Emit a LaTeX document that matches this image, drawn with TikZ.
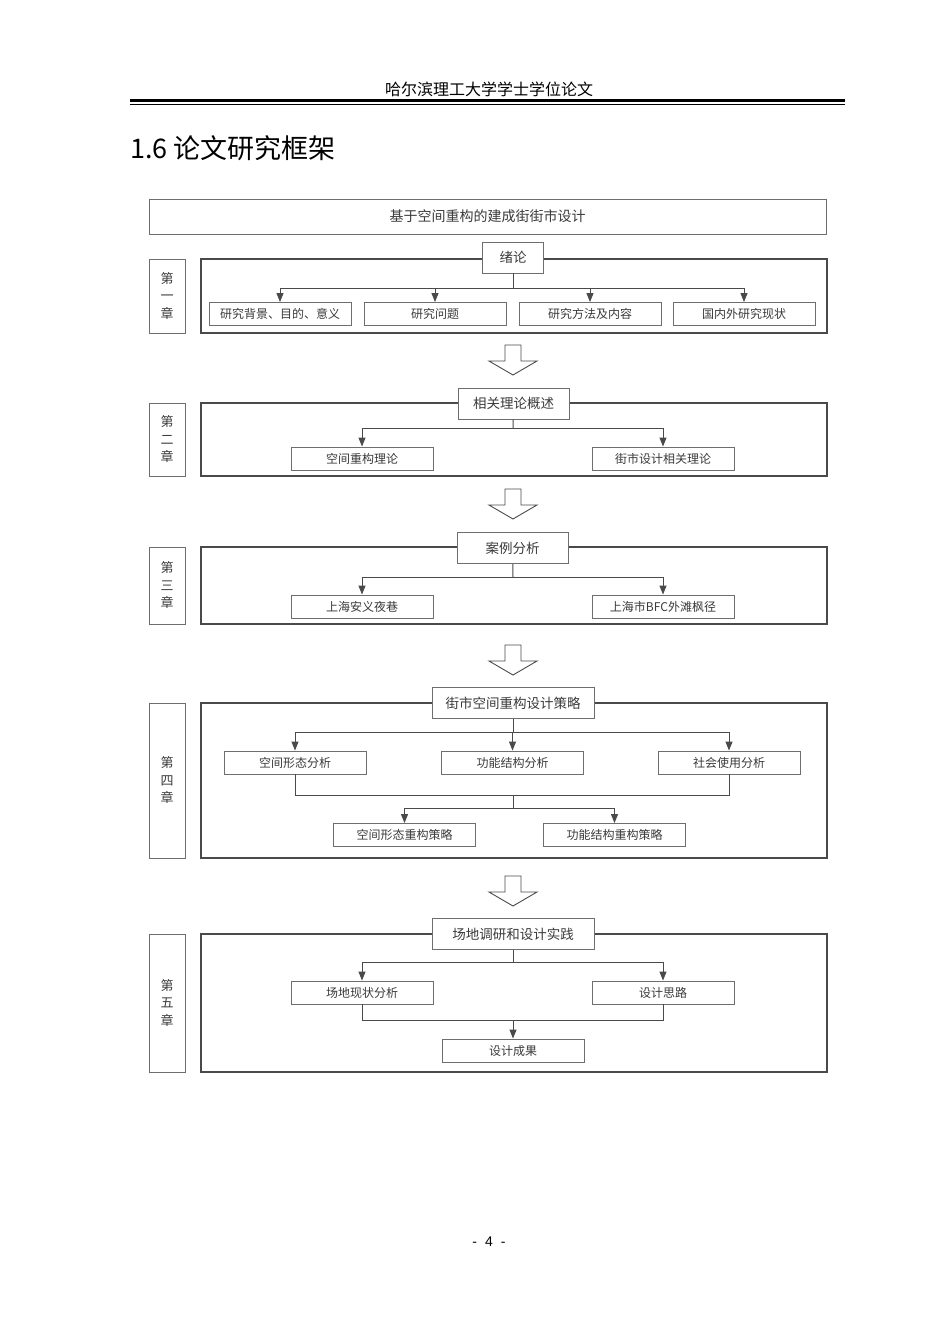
\documentclass[tikz,border=0pt]{standalone}
\usepackage{fontspec}
\setmainfont{Liberation Serif}
\newfontfamily\cjk{Noto Sans CJK SC}
\newfontfamily\pagefont{Liberation Sans}
\usetikzlibrary{arrows.meta,positioning,calc}
\definecolor{ink}{HTML}{3A3A3A}
\definecolor{wire}{HTML}{4A4A4A}
\definecolor{edgeGray}{HTML}{6E6E6E}

\begin{document}
\begin{tikzpicture}[x=1pt,y=-1pt,
  box/.style={draw=edgeGray,line width=0.9pt,fill=white,text=ink,inner sep=0pt,
              minimum width=142pt,minimum height=23pt,font=\cjk\fontsize{12}{14}\selectfont},
  lead/.style={box,minimum height=31pt,font=\cjk\fontsize{13.5}{16}\selectfont},
  frame/.style={draw=wire,line width=1.5pt,minimum width=626pt,inner sep=0pt},
  side/.style={draw=edgeGray,line width=1pt,minimum width=36pt,inner sep=0pt,align=center,
               text=ink,font=\cjk\fontsize{13}{17.5}\selectfont},
  link/.style={draw=wire,line width=1pt},
  edge/.style={link,-{Triangle[length=9pt,width=7pt]}},
  hollow/.style={draw=wire,line width=0.9pt,fill=white,line join=miter}
]
  \useasboundingbox (0,0) rectangle (950,1342);

  \node[font=\cjk\fontsize{16}{16}\selectfont] (hdr) at (489,89) {哈尔滨理工大学学士学位论文};
  \draw[line width=3pt] (130,100.5) -- (845,100.5);
  \draw[line width=1pt] (130,104.3) -- (845,104.3);
  \node[anchor=west,inner sep=0pt,font=\cjk\fontsize{27}{27}\selectfont] (sec) at (130,148) {1.6 论文研究框架};

  \node[box,minimum width=677pt,minimum height=35pt,font=\cjk\fontsize{14}{16}\selectfont] (theme) at (487.5,216.5) {基于空间重构的建成街街市设计};

  \node[frame,minimum height=74pt] (f1) at (514,296) {};
  \node[side,minimum height=74pt] (s1) at (167,296) {第\\一\\章};
  \node[lead,minimum width=61pt] (t1) at (513,257.5) {绪论};
  \node[box] (c11) at (280,314) {研究背景、目的、意义};
  \node[box] (c12) at (435,314) {研究问题};
  \node[box] (c13) at (590,314) {研究方法及内容};
  \node[box] (c14) at (744,314) {国内外研究现状};
  \coordinate (b1) at (513,288);
  \draw[link] (t1) -- (b1);
  \foreach \c in {c11,c12,c13,c14} \draw[edge] (b1) -| (\c);

  \node[frame,minimum height=73pt] (f2) at (514,439.5) {};
  \node[side,minimum height=73pt] (s2) at (167,439.5) {第\\二\\章};
  \node[lead,minimum width=111pt] (t2) at (513.5,403.5) {相关理论概述};
  \node[box] (c21) at (362,458.5) {空间重构理论};
  \node[box] (c22) at (663,458.5) {街市设计相关理论};
  \coordinate (b2) at (513,428);
  \draw[link] (t2) -- (b2);
  \foreach \c in {c21,c22} \draw[edge] (b2) -| (\c);

  \node[frame,minimum height=77pt] (f3) at (514,585.5) {};
  \node[side,minimum height=77pt] (s3) at (167,585.5) {第\\三\\章};
  \node[lead,minimum width=111pt] (t3) at (512.5,548) {案例分析};
  \node[box] (c31) at (362,606.5) {上海安义夜巷};
  \node[box] (c32) at (663,606.5) {上海市BFC外滩枫径};
  \coordinate (b3) at (513,577);
  \draw[link] (t3) -- (b3);
  \foreach \c in {c31,c32} \draw[edge] (b3) -| (\c);

  \node[frame,minimum height=155pt] (f4) at (514,780.5) {};
  \node[side,minimum height=155pt] (s4) at (167,780.5) {第\\四\\章};
  \node[lead,minimum width=162pt] (t4) at (513,703) {街市空间重构设计策略};
  \node[box] (c41) at (295,762.5) {空间形态分析};
  \node[box] (c42) at (512.5,762.5) {功能结构分析};
  \node[box] (c43) at (729,762.5) {社会使用分析};
  \node[box] (c44) at (404.5,835) {空间形态重构策略};
  \node[box] (c45) at (614.5,835) {功能结构重构策略};
  \coordinate (b4) at (513,732);
  \coordinate (m4) at (513,795);
  \coordinate (n4) at (513,808);
  \draw[link] (t4) -- (b4);
  \foreach \c in {c41,c42,c43} \draw[edge] (b4) -| (\c);
  \draw[link] (c41) |- (m4) -| (c43);
  \draw[link] (m4) -- (n4);
  \foreach \c in {c44,c45} \draw[edge] (n4) -| (\c);

  \node[frame,minimum height=138pt] (f5) at (514,1003) {};
  \node[side,minimum height=138pt] (s5) at (167,1003) {第\\五\\章};
  \node[lead,minimum width=162pt] (t5) at (513,934) {场地调研和设计实践};
  \node[box] (c51) at (362,992.5) {场地现状分析};
  \node[box] (c52) at (663,992.5) {设计思路};
  \node[box] (c53) at (513,1050.5) {设计成果};
  \coordinate (b5) at (513,962);
  \coordinate (m5) at (513,1020);
  \draw[link] (t5) -- (b5);
  \foreach \c in {c51,c52} \draw[edge] (b5) -| (\c);
  \draw[link] (c51) |- (m5) -| (c52);
  \draw[edge] (m5) -- (c53);

  \foreach \y in {345,489,645,876}
    \draw[hollow] (505,\y) -- (521,\y) -- (521,\y+16) -- (537,\y+16) -- (513,\y+30)
      -- (489,\y+16) -- (505,\y+16) -- cycle;

  \node[font=\pagefont\fontsize{14}{14}\selectfont] (pg) at (489,1242) {-\hspace{8pt}4\hspace{8pt}-};
\end{tikzpicture}
\end{document}
